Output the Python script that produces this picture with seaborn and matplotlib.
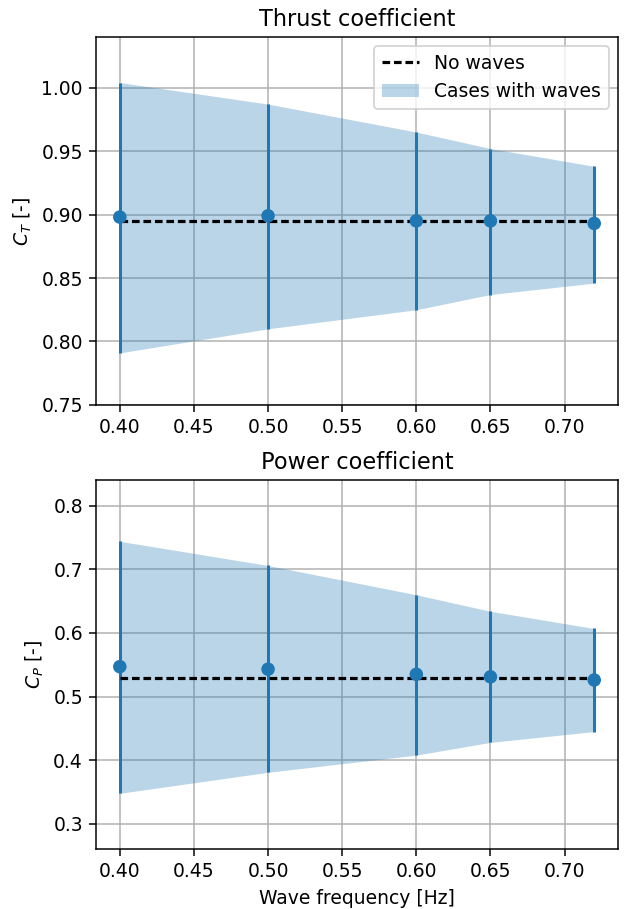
import numpy as np
import pandas as pd
import matplotlib
matplotlib.use('Agg')
import matplotlib.pyplot as plt
import matplotlib.ticker as mticker
import seaborn as sns

# Wave frequencies of the simulated cases [Hz]
freq = [0.40, 0.50, 0.60, 0.65, 0.72]

# Thrust coefficient: mean, min, max over each wave case
ct_mean = [0.898, 0.899, 0.895, 0.895, 0.893]
ct_min = [0.791, 0.810, 0.825, 0.837, 0.846]
ct_max = [1.004, 0.987, 0.965, 0.952, 0.938]
ct_nowaves = 0.895

# Power coefficient
cp_mean = [0.547, 0.543, 0.535, 0.531, 0.526]
cp_min = [0.348, 0.381, 0.408, 0.428, 0.445]
cp_max = [0.744, 0.706, 0.660, 0.634, 0.607]
cp_nowaves = 0.529

DPI = 135
fig = plt.figure(figsize=(628 / DPI, 909 / DPI), dpi=DPI)
ax1 = fig.add_axes([0.153, 0.5545, 0.831, 0.405])
ax2 = fig.add_axes([0.153, 0.0657, 0.831, 0.406])


def draw_panel(ax, mean, lo, hi, ref, title, ylabel, ylim, yfmt, show_legend):
    df = pd.DataFrame({'freq': freq, 'mean': mean, 'lo': lo, 'hi': hi})
    ax.fill_between(df['freq'], df['lo'], df['hi'], color='tab:blue',
                    alpha=0.3, linewidth=0, label='Cases with waves')
    err = [df['mean'] - df['lo'], df['hi'] - df['mean']]
    ax.errorbar(df['freq'], df['mean'], yerr=err, fmt='none',
                ecolor='tab:blue', elinewidth=1.6, capsize=0)
    sns.scatterplot(data=df, x='freq', y='mean', ax=ax, color='tab:blue',
                    s=52, edgecolor='none', zorder=3)
    ref_df = pd.DataFrame({'freq': [freq[0], freq[-1]], 'ref': [ref, ref]})
    sns.lineplot(data=ref_df, x='freq', y='ref', ax=ax, color='black',
                 linestyle=(0, (2.4, 1.2)), linewidth=1.7, label='No waves')
    ax.set_ylim(*ylim)
    ax.set_xticks(np.arange(0.40, 0.7001, 0.05))
    ax.xaxis.set_major_formatter(mticker.FormatStrFormatter('%.2f'))
    ax.yaxis.set_major_formatter(mticker.FormatStrFormatter(yfmt))
    ax.grid(True)
    ax.set_axisbelow(True)
    ax.set_title(title)
    ax.set_ylabel(ylabel)
    ax.set_xlabel('')
    if show_legend:
        handles, labels = ax.get_legend_handles_labels()
        order = [labels.index('No waves'), labels.index('Cases with waves')]
        ax.legend([handles[i] for i in order], [labels[i] for i in order],
                  loc='upper right')
    else:
        leg = ax.get_legend()
        if leg is not None:
            leg.remove()


draw_panel(ax1, ct_mean, ct_min, ct_max, ct_nowaves, 'Thrust coefficient',
           '$C_T$ [-]', (0.75, 1.04), '%.2f', True)
draw_panel(ax2, cp_mean, cp_min, cp_max, cp_nowaves, 'Power coefficient',
           '$C_P$ [-]', (0.26, 0.84), '%.1f', False)
ax2.set_xlabel('Wave frequency [Hz]')
ax1.set_xlim(ax2.get_xlim())

fig.savefig('out.png', dpi=DPI)
